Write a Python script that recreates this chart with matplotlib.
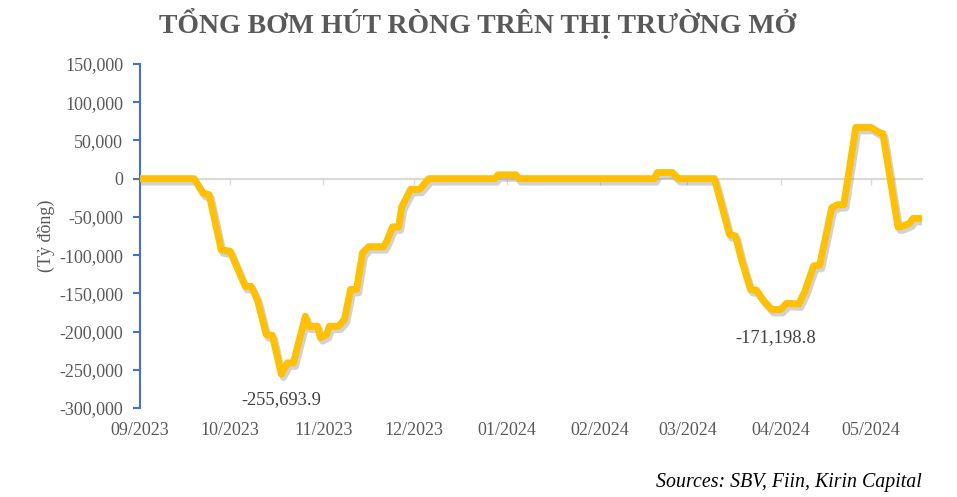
import numpy as np
import pandas as pd
import matplotlib
matplotlib.use('Agg')
import matplotlib.pyplot as plt
import matplotlib.patheffects as pe
import matplotlib.transforms as mtransforms

# du lieu doc tu hinh (ty dong)
ngay = ['2023-09-01', '2023-09-19', '2023-09-22', '2023-09-24', '2023-09-28',
        '2023-10-01', '2023-10-06', '2023-10-08', '2023-10-10', '2023-10-13',
        '2023-10-15', '2023-10-18', '2023-10-20', '2023-10-22', '2023-10-26',
        '2023-10-27', '2023-10-30', '2023-10-31', '2023-11-02', '2023-11-03',
        '2023-11-06', '2023-11-08', '2023-11-10', '2023-11-12', '2023-11-14',
        '2023-11-16', '2023-11-21', '2023-11-22', '2023-11-24', '2023-11-26',
        '2023-11-27', '2023-11-30', '2023-12-03', '2023-12-06', '2023-12-28',
        '2023-12-29', '2024-01-04', '2024-01-05', '2024-02-19', '2024-02-20',
        '2024-02-25', '2024-02-27', '2024-03-10', '2024-03-15', '2024-03-17',
        '2024-03-19', '2024-03-22', '2024-03-24', '2024-03-26', '2024-03-29',
        '2024-04-01', '2024-04-03', '2024-04-07', '2024-04-09', '2024-04-12',
        '2024-04-14', '2024-04-18', '2024-04-20', '2024-04-22', '2024-04-26',
        '2024-05-01', '2024-05-04', '2024-05-05', '2024-05-10', '2024-05-11',
        '2024-05-14', '2024-05-15', '2024-05-18']
gia_tri = [0, 0, -19000, -21000, -93000,
           -95000, -141000, -141000, -158000, -204000,
           -205000, -255693.9, -241000, -241000, -180000,
           -193000, -193000, -208000, -204000, -193000,
           -193000, -184000, -145000, -145000, -97000,
           -89000, -89000, -82000, -63000, -63000,
           -37000, -14000, -14000, 0, 0,
           5000, 5000, 0, 0, 8000,
           8000, 0, 0, -73000, -75000,
           -106000, -145000, -146000, -158000, -171198.8,
           -171198.8, -163000, -164000, -148000, -114000,
           -113000, -38000, -34000, -34000, 67000,
           67000, 60000, 59000, -63000, -63000,
           -58000, -52000, -52000]
nhan_thang = ['09/2023', '10/2023', '11/2023', '12/2023', '01/2024',
              '02/2024', '03/2024', '04/2024', '05/2024']
thang = pd.date_range('2023-09-01', '2024-05-01', freq='MS')
yticks = np.arange(-300000, 150001, 50000)

x = pd.to_datetime(ngay)
y = np.array(gia_tri)

serif = ['Liberation Serif', 'DejaVu Serif']
xam = '#595959'

fig = plt.figure(figsize=(9.57, 4.97), dpi=100)
ax = fig.add_axes([140/957, 1-408/497, (922-140)/957, (408-64)/497])

ax.plot(x, y, color='#FFC000', lw=5, solid_joinstyle='round', solid_capstyle='round',
        path_effects=[pe.SimpleLineShadow(offset=(1.5, -2.5), shadow_color='#7f7f7f', alpha=0.35),
                      pe.Normal()], zorder=3)

ax.set_xlim(pd.Timestamp('2023-09-01'), pd.Timestamp('2024-05-18'))
ax.set_ylim(-300000, 150000)

for s in ['top', 'right']:
    ax.spines[s].set_visible(False)
ax.spines['left'].set_color('#4472C4')
ax.spines['left'].set_linewidth(1.5)
ax.spines['bottom'].set_position(('data', 0))
ax.spines['bottom'].set_color('#D9D9D9')
ax.spines['bottom'].set_linewidth(1.5)
ax.spines['bottom'].set_zorder(1)

ax.set_yticks(yticks)
ax.set_yticklabels([f'{v:,}' for v in yticks], fontfamily=serif, fontsize=13, color=xam)
ax.tick_params(axis='y', direction='out', length=5, width=1.5, color='#4472C4', pad=7)

ax.set_xticks(thang)
ax.set_xticklabels([])
ax.tick_params(axis='x', direction='out', length=4, width=1, color='#D9D9D9')
trans = mtransforms.blended_transform_factory(ax.transData, ax.transAxes)
for d, lab in zip(thang, nhan_thang):
    ax.text(d, -0.065, lab, transform=trans, ha='center', va='center',
            fontfamily=serif, fontsize=13, color=xam)

ax.set_ylabel('(Tỷ đồng)', fontfamily=serif, fontsize=13, color=xam, labelpad=3)

# nhan gia tri thap nhat
i1 = int(np.argmin(y[:35]))
ax.annotate(f'{y[i1]:,.1f}', xy=(x[i1], y[i1]), xytext=(0, -12), textcoords='offset points',
            ha='center', va='top', fontfamily=serif, fontsize=13.3, color='#404040')
i2 = 35 + int(np.argmin(y[35:]))
x2 = x[i2] + (x[i2 + 1] - x[i2]) / 2
ax.annotate(f'{y[i2]:,.1f}', xy=(x2, y[i2]), xytext=(0, -14), textcoords='offset points',
            ha='center', va='top', fontfamily=serif, fontsize=13.3, color='#404040')

fig.text(478/957, 1-23/497, 'TỔNG BƠM HÚT RÒNG TRÊN THỊ TRƯỜNG MỞ', ha='center', va='center',
         fontfamily=serif, fontsize=20, fontweight='bold', color=xam)
fig.text(922/957, 1-483/497, 'Sources: SBV, Fiin, Kirin Capital', ha='right', va='center',
         fontfamily=serif, fontsize=14.3, fontstyle='italic', color='black')

fig.savefig('out.png', dpi=100)
